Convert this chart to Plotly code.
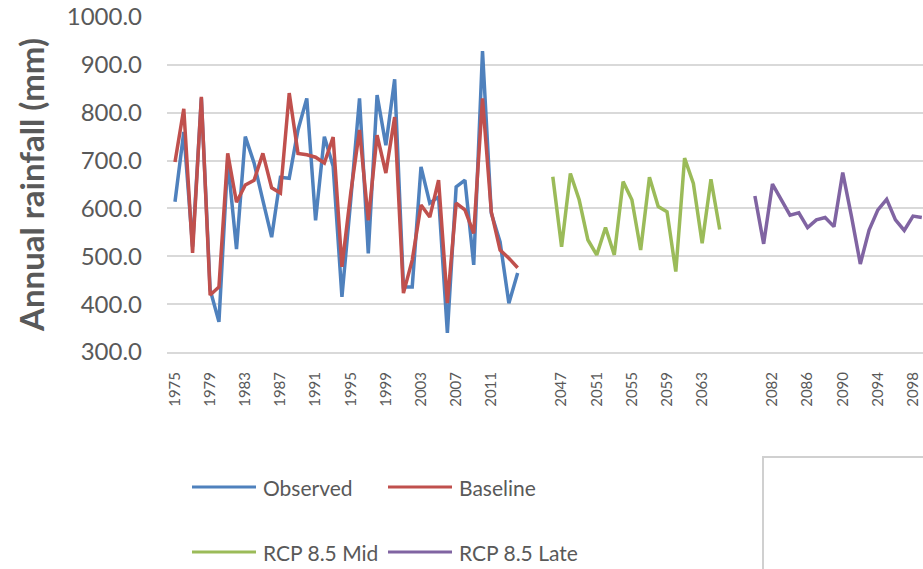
import plotly.graph_objects as go

# ---------------- data ----------------
obs_years = list(range(1975, 2015))
observed = [614, 760, 520, 830, 430, 363, 700, 515, 750, 695,
            617, 540, 665, 663, 764, 830, 575, 750, 688, 415,
            617, 830, 506, 837, 732, 870, 436, 436, 687, 611,
            624, 340, 645, 659, 482, 929, 590, 530, 402, 465]
baseline = [697, 808, 507, 833, 419, 436, 715, 613, 649, 659,
            715, 643, 632, 841, 715, 712, 707, 695, 749, 478,
            632, 764, 575, 753, 674, 791, 423, 492, 607, 582,
            659, 402, 611, 597, 548, 830, 593, 513, 496, 476]

mid_years = list(range(2046, 2066))
rcp_mid = [666, 520, 673, 618, 534, 503, 560, 503, 656, 618,
           513, 665, 604, 593, 468, 705, 652, 527, 661, 556]

late_years = list(range(2080, 2100))
rcp_late = [626, 526, 651, 618, 586, 591, 560, 576, 581, 562,
            675, 583, 484, 555, 597, 619, 576, 554, 584, 581]

series_names = ["Observed", "Baseline", "RCP 8.5 Mid", "RCP 8.5 Late"]
series_colors = ["#4F81BD", "#C0504D", "#9BBB59", "#8064A2"]
gap = 3  # empty category slots between periods

# category sequence (blank slots between periods)
categories = ([str(y) for y in obs_years] + [""] * gap +
              [str(y) for y in mid_years] + [""] * gap +
              [str(y) for y in late_years])
pos_of = {c: i for i, c in enumerate(categories) if c}


def xs(years):
    return [pos_of[str(y)] for y in years]


tick_vals = list(range(0, len(categories), 4))
tick_text = [categories[i] for i in tick_vals]

# ---------------- figure ----------------
W, H = 923, 569
ML, MR, MT, MB = 167, 0, 17, 217
PW, PH = W - ML - MR, H - MT - MB
grey_txt = "#595959"
FONT = "Lato"

fig = go.Figure()
data_sets = [(obs_years, observed), (obs_years, baseline),
             (mid_years, rcp_mid), (late_years, rcp_late)]
for (yrs, vals), name, col in zip(data_sets, series_names, series_colors):
    fig.add_trace(go.Scatter(x=xs(yrs), y=vals, mode="lines", name=name,
                             line=dict(color=col, width=3.5),
                             showlegend=False))

step = 8.786
x0 = -8 / step
fig.update_layout(
    width=W, height=H,
    margin=dict(l=ML, r=MR, t=MT, b=MB, pad=0),
    paper_bgcolor="white", plot_bgcolor="white",
    font=dict(family=FONT, color=grey_txt),
    xaxis=dict(range=[x0, x0 + PW / step], tickmode="array",
               tickvals=tick_vals, ticktext=tick_text, tickangle=-90,
               tickfont=dict(size=15, color=grey_txt), showgrid=False,
               zeroline=False, showline=True, linecolor="#D9D9D9",
               linewidth=2, ticks="", ticklabelstandoff=12),
    yaxis=dict(range=[300, 1000], tickvals=list(range(300, 1001, 100)),
               tickformat=".1f", tickfont=dict(size=24, color=grey_txt),
               showgrid=True, gridcolor="#D9D9D9", gridwidth=2,
               zeroline=False, showline=False, ticks="",
               ticklabelstandoff=24,
               title=dict(text="<b>Annual rainfall (mm)</b>",
                          font=dict(size=33, color=grey_txt), standoff=12)),
)

# ---------------- legend (drawn manually, Excel style) ----------------
def px_x(px):
    return (px - ML) / PW


def px_y(py):
    return (MT + PH - py) / PH


legend_pos = [(192, 487), (388, 487), (192, 552), (388, 552)]
for (lx, ly), name, col in zip(legend_pos, series_names, series_colors):
    fig.add_shape(type="line", xref="paper", yref="paper",
                  x0=px_x(lx), x1=px_x(lx + 64), y0=px_y(ly), y1=px_y(ly),
                  line=dict(color=col, width=3))
    fig.add_annotation(xref="paper", yref="paper", x=px_x(lx + 69),
                       y=px_y(ly), text=name, showarrow=False,
                       xanchor="left", yanchor="middle",
                       font=dict(size=21, color=grey_txt, family=FONT))

# partial box at the lower right (cropped chart element)
fig.add_shape(type="rect", xref="paper", yref="paper",
              x0=px_x(763), x1=px_x(940), y0=px_y(457), y1=px_y(600),
              line=dict(color="#D0D0D0", width=2), fillcolor="rgba(0,0,0,0)")

fig.write_html("out.html")
